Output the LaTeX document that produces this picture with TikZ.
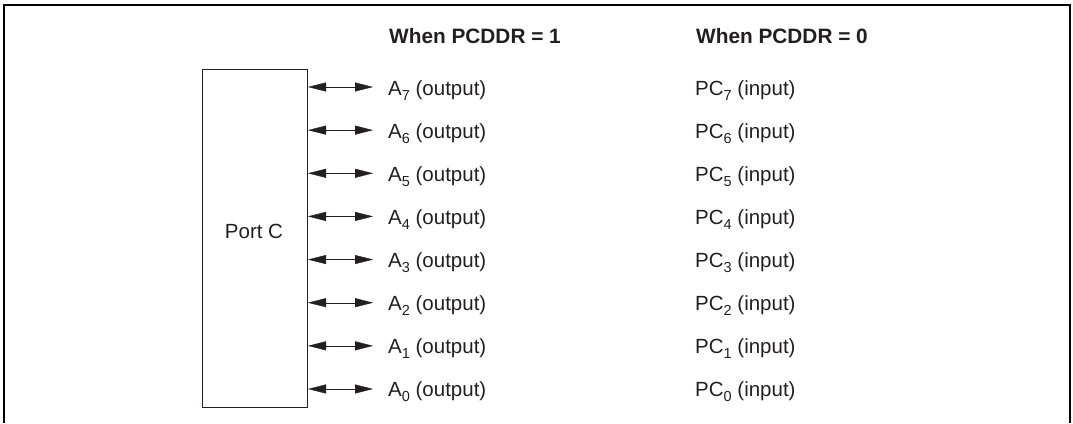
\documentclass[tikz,border=0pt]{standalone}
\usepackage{fontspec}
\setmainfont{Liberation Sans}
\usepackage{xcolor}
\usepackage{tikz}
\usetikzlibrary{arrows.meta,positioning}
\definecolor{ink}{HTML}{231F20}
\newcommand{\pinsub}[1]{\raisebox{-5pt}{\fontsize{14.5}{15}\selectfont #1}}

\begin{document}
\begin{tikzpicture}[x=1pt,y=-1pt, every node/.style={font=\fontsize{20.5}{23}\selectfont,text=ink,inner sep=0pt}]
\useasboundingbox (0,0) rectangle (1073,423);
% open frame
\draw[line width=2pt] (4,423) -- (4,5) -- (1070,5) -- (1070,423);
% port block
\node[draw=ink,line width=1pt,minimum width=105pt,minimum height=338pt,anchor=north west] (port) at (202,69) {};
\node (portlbl) at (254,231) {Port C};
% column heads
\node[anchor=base west,font=\fontsize{20.8}{23}\selectfont\bfseries] (headone) at (389,43) {When PCDDR = 1};
\node[anchor=base west,font=\fontsize{20.8}{23}\selectfont\bfseries] (headzero) at (696,43) {When PCDDR = 0};
% pins
\foreach \i [count=\k from 0] in {7,6,5,4,3,2,1,0} {
  \coordinate (r\i) at (373,87+43.14*\k);
  \node[anchor=base west] (a\i) at (388,95+43.14*\k) {A\pinsub{\i} (output)};
  \node[anchor=base west] (pc\i) at (695,95+43.14*\k) {PC\pinsub{\i} (input)};
  \draw[ink,{Triangle[length=18pt,width=9pt]}-{Triangle[length=18pt,width=9pt]}] (port.east |- r\i) -- (r\i);
}
\end{tikzpicture}
\end{document}
